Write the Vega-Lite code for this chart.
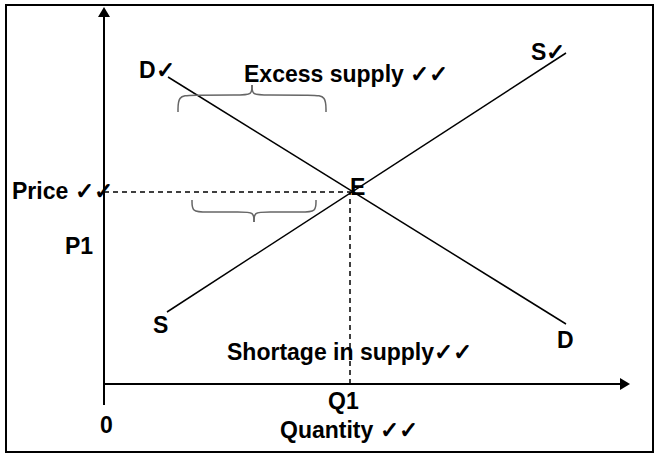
{
  "$schema": "https://vega.github.io/schema/vega-lite/v6.json",
  "width": 656,
  "height": 454,
  "autosize": {"type": "fit", "contains": "padding"},
  "padding": {"left": 6, "top": 5, "right": 3, "bottom": 2},
  "background": "white",
  "config": {
    "view": {"stroke": "black", "strokeWidth": 2},
    "text": {"font": "Liberation Sans", "fontSize": 23, "fontWeight": "bold", "align": "left", "baseline": "alphabetic", "color": "black"}
  },
  "datasets": {
    "axes": [
      {"axis": "y", "q": 0, "p": -2.1, "q2": 0, "p2": 37.0},
      {"axis": "x", "q": 0, "p": 0, "q2": 51.8, "p2": 0}
    ],
    "guides": [
      {"guide": "price", "q": 0, "p": 19.2, "q2": 24.7, "p2": 19.2},
      {"guide": "quantity", "q": 24.6, "p": 0, "q2": 24.6, "p2": 19.2}
    ],
    "curves": [
      {"curve": "D", "q": 6.4, "p": 30.7},
      {"curve": "D", "q": 46.2, "p": 6.0},
      {"curve": "S", "q": 6.3, "p": 7.2},
      {"curve": "S", "q": 46.2, "p": 33.1}
    ],
    "braces": [
      {"seg": "u1", "o": 0, "q": 7.4, "p": 27.2},
      {"seg": "u1", "o": 1, "q": 7.4, "p": 28.8},
      {"seg": "u1", "o": 2, "q": 8.6, "p": 28.9},
      {"seg": "u1", "o": 3, "q": 13.6, "p": 28.9},
      {"seg": "u1", "o": 4, "q": 14.8, "p": 28.9},
      {"seg": "u1", "o": 5, "q": 14.8, "p": 29.9},
      {"seg": "u2", "o": 0, "q": 14.8, "p": 29.9},
      {"seg": "u2", "o": 1, "q": 14.8, "p": 28.9},
      {"seg": "u2", "o": 2, "q": 16.0, "p": 28.9},
      {"seg": "u2", "o": 3, "q": 21.0, "p": 28.9},
      {"seg": "u2", "o": 4, "q": 22.2, "p": 28.8},
      {"seg": "u2", "o": 5, "q": 22.2, "p": 27.2},
      {"seg": "l1", "o": 0, "q": 8.8, "p": 18.4},
      {"seg": "l1", "o": 1, "q": 8.8, "p": 17.2},
      {"seg": "l1", "o": 2, "q": 10.0, "p": 17.2},
      {"seg": "l1", "o": 3, "q": 13.8, "p": 17.2},
      {"seg": "l1", "o": 4, "q": 15.0, "p": 17.2},
      {"seg": "l1", "o": 5, "q": 15.0, "p": 16.2},
      {"seg": "l2", "o": 0, "q": 15.0, "p": 16.2},
      {"seg": "l2", "o": 1, "q": 15.0, "p": 17.2},
      {"seg": "l2", "o": 2, "q": 16.2, "p": 17.2},
      {"seg": "l2", "o": 3, "q": 20.0, "p": 17.2},
      {"seg": "l2", "o": 4, "q": 21.2, "p": 17.2},
      {"seg": "l2", "o": 5, "q": 21.2, "p": 18.4}
    ],
    "arrows": [
      {"dir": "up", "q": 0, "p": 37.2},
      {"dir": "right", "q": 52.1, "p": 0}
    ],
    "labels": [
      {"text": "D✓", "q": 3.5, "p": 30.6},
      {"text": "Excess supply ✓✓", "q": 14.0, "p": 30.2},
      {"text": "S✓", "q": 42.7, "p": 32.4},
      {"text": "Price ✓✓", "q": -9.2, "p": 18.5},
      {"text": "E", "q": 24.6, "p": 18.9},
      {"text": "P1", "q": -3.9, "p": 13.0},
      {"text": "S", "q": 4.9, "p": 5.1},
      {"text": "D", "q": 45.3, "p": 3.6},
      {"text": "Shortage in supply✓✓", "q": 12.3, "p": 2.4},
      {"text": "Q1", "q": 22.4, "p": -2.5},
      {"text": "0", "q": -0.4, "p": -4.9},
      {"text": "Quantity ✓✓", "q": 17.6, "p": -5.4}
    ]
  },
  "encoding": {
    "x": {"field": "q", "type": "quantitative", "scale": {"domain": [-9.8, 54.9], "nice": false, "zero": false}, "axis": null},
    "y": {"field": "p", "type": "quantitative", "scale": {"domain": [-6.8, 37.9], "nice": false, "zero": false}, "axis": null}
  },
  "layer": [
    {
      "data": {"name": "axes"},
      "mark": {"type": "rule", "color": "black", "strokeWidth": 2},
      "encoding": {"x2": {"field": "q2"}, "y2": {"field": "p2"}}
    },
    {
      "data": {"name": "guides"},
      "mark": {"type": "rule", "color": "black", "strokeWidth": 1.5, "strokeDash": [5, 4]},
      "encoding": {"x2": {"field": "q2"}, "y2": {"field": "p2"}}
    },
    {
      "data": {"name": "curves"},
      "mark": {"type": "line", "color": "black", "strokeWidth": 1.5},
      "encoding": {"detail": {"field": "curve"}}
    },
    {
      "data": {"name": "braces"},
      "mark": {"type": "line", "color": "#666666", "strokeWidth": 1.5, "interpolate": "basis"},
      "encoding": {"detail": {"field": "seg"}, "order": {"field": "o", "type": "quantitative"}}
    },
    {
      "data": {"name": "arrows"},
      "mark": {"type": "point", "filled": true, "color": "black", "opacity": 1, "size": 100},
      "encoding": {
        "shape": {"field": "dir", "type": "nominal", "scale": {"domain": ["up", "right"], "range": ["M0,-1L1.2,1L-1.2,1Z", "M1,0L-1,1.2L-1,-1.2Z"]}, "legend": null}
      }
    },
    {
      "data": {"name": "labels"},
      "mark": {"type": "text"},
      "encoding": {"text": {"field": "text"}}
    }
  ]
}
